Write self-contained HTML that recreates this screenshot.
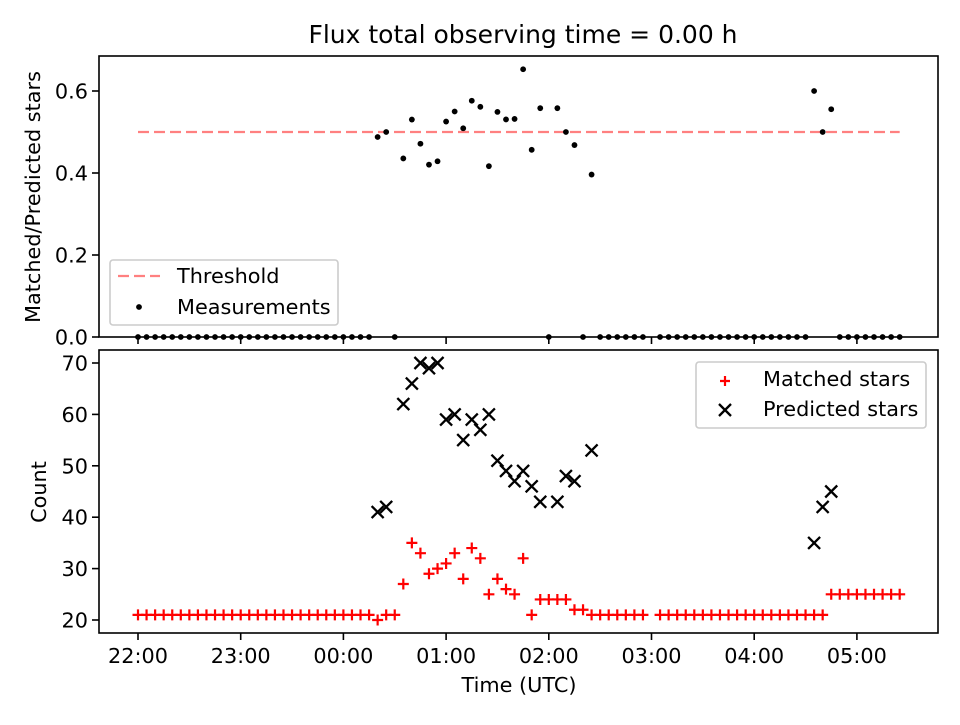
<!DOCTYPE html>
<html><head><meta charset="utf-8"><style>
body{margin:0;background:#fff;}
svg{font-family:"DejaVu Sans","Liberation Sans",sans-serif;}
</style></head><body>
<svg id="c" width="960" height="720" viewBox="0 0 960 720"></svg>
<script>
const hourLabels=["22:00","23:00","00:00","01:00","02:00","03:00","04:00","05:00"];
const ratioTicks=[0.0,0.2,0.4,0.6];
const countTicks=[20,30,40,50,60,70];
const threshold=0.5;
// one sample every 5 minutes starting at 22:00 (index i)
const matched=[21,21,21,21,21,21,21,21,21,21,21,21,21,21,21,21,21,21,21,21,21,21,21,21,21,21,21,21,20,21,21,27,35,33,29,30,31,33,28,34,32,25,28,26,25,32,21,24,24,24,24,22,22,21,21,21,21,21,21,21,null,21,21,21,21,21,21,21,21,21,21,21,21,21,21,21,21,21,21,21,21,25,25,25,25,25,25,25,25,25];
const predicted={28:41,29:42,31:62,32:66,33:70,34:69,35:70,36:59,37:60,38:55,39:59,40:57,41:60,42:51,43:49,44:47,45:49,46:46,47:43,49:43,50:48,51:47,53:53,79:35,80:42,81:45};
const NS="http://www.w3.org/2000/svg";
const svg=document.getElementById('c');
function el(t,a,p){const e=document.createElementNS(NS,t);for(const k in a)e.setAttribute(k,a[k]);(p||svg).appendChild(e);return e;}
const X=m=>138+m*102.7/60;
const Yt=v=>337-v*410;
const Yb=v=>620-(v-20)*5.14;
const FS=20.8;
let t=el('text',{x:523,y:43,'text-anchor':'middle','font-size':25});t.textContent="Flux total observing time = 0.00 h";


let f1=el('rect',{x:99,y:56,width:839,height:281,fill:'none',stroke:'#000','stroke-width':1.6});


let f2=el('rect',{x:99,y:350,width:839,height:283,fill:'none',stroke:'#000','stroke-width':1.6});


hourLabels.forEach((h,k)=>{const x=X(k*60);
 el('line',{x1:x,x2:x,y1:337,y2:344,stroke:'#000','stroke-width':1.6});
 el('line',{x1:x,x2:x,y1:633,y2:640,stroke:'#000','stroke-width':1.6});
 const tx=el('text',{x:x,y:663,'text-anchor':'middle','font-size':FS});tx.textContent=h;
 
 
});
let xl=el('text',{x:519,y:692,'text-anchor':'middle','font-size':FS});xl.textContent="Time (UTC)";


ratioTicks.forEach(v=>{const y=Yt(v);el('line',{x1:92,x2:99,y1:y,y2:y,stroke:'#000','stroke-width':1.6});
 const tx=el('text',{x:88,y:y+7.5,'text-anchor':'end','font-size':FS});tx.textContent=v.toFixed(1);
 
 });
countTicks.forEach(v=>{const y=Yb(v);el('line',{x1:92,x2:99,y1:y,y2:y,stroke:'#000','stroke-width':1.6});
 const tx=el('text',{x:88,y:y+7.5,'text-anchor':'end','font-size':FS});tx.textContent=v;
 
 });
let y1=el('text',{x:0,y:0,'text-anchor':'middle','font-size':FS,transform:'translate(40,197) rotate(-90)'});y1.textContent="Matched/Predicted stars";


let y2=el('text',{x:0,y:0,'text-anchor':'middle','font-size':FS,transform:'translate(46,492) rotate(-90)'});y2.textContent="Count";


let th=el('line',{x1:X(0),x2:X(89*5),y1:Yt(threshold),y2:Yt(threshold),stroke:'#ff8080','stroke-width':2.3,'stroke-dasharray':'11,5'});


matched.forEach((m,i)=>{if(m==null)return;const x=X(i*5);const p=predicted[i];
 const r=p?m/p:0;
 const d=el('circle',{cx:x,cy:Yt(r),r:2.9,fill:'#000'});
 
 
 const y=Yb(m);
 const g=el('path',{d:`M${x-5.5},${y}H${x+5.5}M${x},${y-5.5}V${y+5.5}`,stroke:'red','stroke-width':2.2});
 
 
});
Object.keys(predicted).forEach(k=>{const x=X(k*5),y=Yb(predicted[k]);
 const g=el('path',{d:`M${x-6},${y-6}L${x+6},${y+6}M${x-6},${y+6}L${x+6},${y-6}`,stroke:'#000','stroke-width':2.3});
 
 
});
let lg1=el('g',{});


el('rect',{x:110,y:260,width:228,height:65,rx:3,fill:'#fff','fill-opacity':0.8,stroke:'#ccc','stroke-width':1.6},lg1);
el('line',{x1:118,x2:160,y1:276,y2:276,stroke:'#ff8080','stroke-width':2.3,'stroke-dasharray':'11,5'},lg1);
el('circle',{cx:139,cy:307,r:2.9,fill:'#000'},lg1);
let a=el('text',{x:177,y:283,'font-size':FS},lg1);a.textContent="Threshold";
let b=el('text',{x:177,y:314,'font-size':FS},lg1);b.textContent="Measurements";
let lg2=el('g',{});


el('rect',{x:696,y:362,width:230,height:66,rx:3,fill:'#fff','fill-opacity':0.8,stroke:'#ccc','stroke-width':1.6},lg2);
el('path',{d:'M720,381H730M725,376V386',stroke:'red','stroke-width':2.2},lg2);
el('path',{d:'M719,404L731,416M719,416L731,404',stroke:'#000','stroke-width':2.3},lg2);
let c=el('text',{x:763,y:386,'font-size':FS},lg2);c.textContent="Matched stars";
let e=el('text',{x:763,y:416,'font-size':FS},lg2);e.textContent="Predicted stars";
</script>
</body></html>
